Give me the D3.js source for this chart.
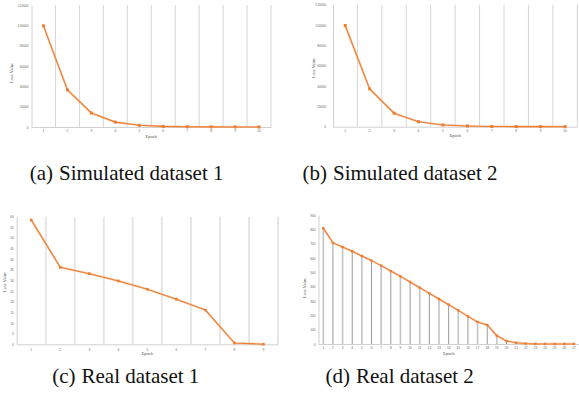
<!DOCTYPE html>
<html>
<head>
<meta charset="utf-8">
<script src="https://cdn.jsdelivr.net/npm/d3@7"></script>
<style>
  html, body { margin: 0; padding: 0; background: #fff; }
  svg { display: block; }
  .serif { font-family: "Liberation Serif", "Times New Roman", Times, serif; }
  .sans { font-family: "Liberation Sans", Arial, sans-serif; }
</style>
</head>
<body>
<svg id="fig" width="579" height="402"></svg>
<script>
// Loss per epoch for the four training runs
const epochsA = d3.range(1, 11);
const lossA = [99500, 36500, 13800, 4800, 1700, 600, 200, 100, 50, 20];
const ticksA = [0, 20000, 40000, 60000, 80000, 100000, 120000];

const epochsB = d3.range(1, 11);
const lossB = [99500, 37200, 13300, 4900, 1700, 700, 200, 100, 50, 20];
const ticksB = [0, 20000, 40000, 60000, 80000, 100000, 120000];

const epochsC = d3.range(1, 10);
const lossC = [58.5, 36.2, 33.2, 29.8, 25.9, 21.2, 16.1, 0.6, 0.05];
const ticksC = d3.range(0, 61, 5);

const epochsD = d3.range(1, 28);
const lossD = [810, 707, 678, 648, 615, 583, 548, 510, 473, 434, 394, 354, 315, 275,
               235, 193, 154, 133, 58, 21, 9, 3, 1, 0.5, 0.5, 0.5, 0.5];
const ticksD = d3.range(0, 901, 100);

const captions = [
  { tag: "(a)", title: "Simulated dataset 1" },
  { tag: "(b)", title: "Simulated dataset 2" },
  { tag: "(c)", title: "Real dataset 1" },
  { tag: "(d)", title: "Real dataset 2" }
];

const svg = d3.select("#fig");
const ORANGE = "#ed7d31";

function panel(cfg) {
  const g = svg.append("g");
  const x = d3.scaleBand().domain(cfg.epochs).range([cfg.left, cfg.right]).padding(0);
  const y = d3.scaleLinear().domain([0, cfg.ticks[cfg.ticks.length - 1]]).range([cfg.bottom, cfg.top]);

  // vertical separators between epochs
  if (cfg.grid) {
    const bounds = cfg.epochs.map(e => x(e) + x.bandwidth());
    g.selectAll(".grid").data(bounds).join("line")
      .attr("x1", d => d).attr("x2", d => d)
      .attr("y1", cfg.top).attr("y2", cfg.bottom)
      .attr("stroke", cfg.gridColor).attr("stroke-width", cfg.gridWidth);
  }

  // left and bottom axes
  const yAxis = d3.axisLeft(y).tickValues(cfg.ticks).tickSize(0).tickPadding(cfg.yPad)
    .tickFormat(d3.format("d"));
  const ya = g.append("g").attr("transform", `translate(${cfg.left},0)`).call(yAxis);
  ya.attr("font-family", null).attr("font-size", null);
  ya.select(".domain").attr("stroke", "#d0d0d0").attr("stroke-width", 1);
  ya.selectAll("text").attr("class", "sans")
    .attr("font-size", cfg.tickFont).attr("fill", "#666");

  const xAxis = d3.axisBottom(x).tickSize(0).tickPadding(cfg.xPad);
  const xa = g.append("g").attr("transform", `translate(0,${cfg.bottom})`).call(xAxis);
  xa.attr("font-family", null).attr("font-size", null);
  xa.select(".domain").attr("stroke", "#d0d0d0").attr("stroke-width", 1);
  xa.selectAll("text").attr("class", "sans")
    .attr("font-size", cfg.tickFont).attr("fill", "#666");

  // drop lines from each point to the axis
  if (cfg.drops) {
    g.selectAll(".drop").data(cfg.epochs).join("line")
      .attr("x1", d => x(d) + x.bandwidth() / 2).attr("x2", d => x(d) + x.bandwidth() / 2)
      .attr("y1", (d, i) => y(cfg.values[i])).attr("y2", cfg.bottom)
      .attr("stroke", (d, i) => i % 2 ? "#9a9a9a" : "#c4c4c4")
      .attr("stroke-width", (d, i) => i % 2 ? 1 : 1.6);
  }

  const line = d3.line()
    .x((d, i) => x(cfg.epochs[i]) + x.bandwidth() / 2)
    .y(d => y(d));
  g.append("path").datum(cfg.values)
    .attr("fill", "none").attr("stroke", "#f4b183").attr("stroke-width", 2.2).attr("opacity", 0.6)
    .attr("d", line);
  g.append("path").datum(cfg.values)
    .attr("fill", "none").attr("stroke", ORANGE).attr("stroke-width", 1.1)
    .attr("d", line);

  const m = cfg.marker;
  g.selectAll(".pt").data(cfg.values).join("rect")
    .attr("x", (d, i) => x(cfg.epochs[i]) + x.bandwidth() / 2 - m / 2)
    .attr("y", d => y(d) - m / 2)
    .attr("width", m).attr("height", m)
    .attr("fill", ORANGE);

  // axis titles
  g.append("text").attr("class", "serif")
    .attr("x", (cfg.left + cfg.right) / 2).attr("y", cfg.epochY)
    .attr("text-anchor", "middle").attr("dominant-baseline", "middle")
    .attr("font-size", cfg.titleFont).attr("fill", "#555").text("Epoch");
  g.append("text").attr("class", "serif")
    .attr("transform", `translate(${cfg.lossX},${cfg.lossY}) rotate(-90)`)
    .attr("text-anchor", "middle").attr("dominant-baseline", "middle")
    .attr("font-size", cfg.titleFont).attr("fill", "#555").text("Loss Value");

  // caption
  const cap = cfg.caption;
  svg.append("text").attr("class", "serif")
    .attr("x", cfg.capX - 6).attr("y", cfg.capY).attr("text-anchor", "end")
    .attr("font-size", 21).attr("fill", "#111").text(cap.tag);
  svg.append("text").attr("class", "serif")
    .attr("x", cfg.capX).attr("y", cfg.capY).attr("text-anchor", "start")
    .attr("font-size", 21).attr("fill", "#111").text(cap.title);
}

panel({
  epochs: epochsA, values: lossA, ticks: ticksA,
  left: 31.5, right: 271, top: 5, bottom: 127,
  grid: true, gridColor: "#d6d6d6", gridWidth: 1,
  yPad: 3, xPad: 3, tickFont: 3.2, titleFont: 4.5, marker: 3,
  epochY: 137, lossX: 12, lossY: 73,
  caption: captions[0], capX: 59, capY: 179.5
});

panel({
  epochs: epochsB, values: lossB, ticks: ticksB,
  left: 333, right: 577.3, top: 4.7, bottom: 126.7,
  grid: true, gridColor: "#d6d6d6", gridWidth: 1,
  yPad: 7, xPad: 3, tickFont: 3.2, titleFont: 4.5, marker: 3,
  epochY: 135.7, lossX: 313.5, lossY: 68,
  caption: captions[1], capX: 333, capY: 179.5
});

panel({
  epochs: epochsC, values: lossC, ticks: ticksC,
  left: 16.7, right: 278, top: 216.7, bottom: 344.3,
  grid: true, gridColor: "#e6e6e6", gridWidth: 2,
  yPad: 3, xPad: 4, tickFont: 3.2, titleFont: 4.5, marker: 2.6,
  epochY: 354.3, lossX: 4.5, lossY: 282,
  caption: captions[2], capX: 81.5, capY: 382.5
});

panel({
  epochs: epochsD, values: lossD, ticks: ticksD,
  left: 318.5, right: 578.8, top: 215.3, bottom: 344,
  grid: false, drops: true,
  yPad: 3, xPad: 3, tickFont: 3.2, titleFont: 4.5, marker: 2.4,
  epochY: 353.7, lossX: 305, lossY: 288,
  caption: captions[3], capX: 356, capY: 382.5
});
</script>
</body>
</html>
